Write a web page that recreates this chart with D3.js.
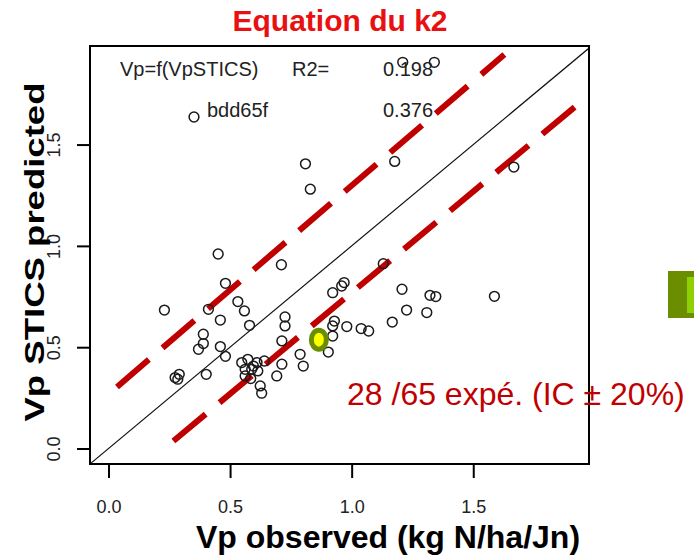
<!DOCTYPE html>
<html><head><meta charset="utf-8">
<script src="https://cdn.jsdelivr.net/npm/d3@7"></script>
<style>body{margin:0;background:#fff}svg{display:block}text{font-family:"Liberation Sans",Arial,sans-serif}</style>
</head><body>
<svg id="c" width="694" height="557"></svg>
<script>
// observed (x) and STICS-predicted (y) values
const obs = [0.810,0.830,1.177,1.667,1.210,1.340,0.451,0.711,1.130,0.481,0.969,0.959,0.922,1.207,1.322,1.346,1.587,
  0.230,0.532,0.559,0.411,0.460,0.580,0.726,0.726,0.929,0.922,0.980,1.039,1.070,1.226,1.309,1.167,
  0.390,0.390,0.370,0.460,0.481,0.713,0.922,0.904,0.788,0.801,0.713,0.548,0.573,0.611,0.641,0.562,0.589,0.614,
  0.562,0.585,0.692,0.402,0.274,0.291,0.285,0.624,0.630,0.596];
const pred = [1.405,1.280,1.417,1.389,1.906,1.906,0.960,0.907,0.912,0.815,0.819,0.802,0.769,0.786,0.756,0.750,0.751,
  0.683,0.725,0.679,0.687,0.634,0.608,0.649,0.605,0.629,0.605,0.602,0.592,0.580,0.683,0.671,0.624,
  0.564,0.518,0.490,0.503,0.455,0.531,0.555,0.476,0.465,0.407,0.416,0.424,0.440,0.424,0.432,0.391,0.391,0.383,
  0.358,0.345,0.358,0.366,0.350,0.366,0.342,0.309,0.273,0.407];
const highlight = [0.865, 0.537];
const upperBand = [[0.035,0.304],[1.628,1.944]];
const lowerBand = [[0.267,0.037],[1.939,1.707]];
const xTicks = [0, 0.5, 1.0, 1.5];
const yTicks = [0, 0.5, 1.0, 1.5];
const xLim = [0, 1.9], yLim = [0, 1.91];

const svg = d3.select("#c");
const pad = l => [l[0]-(l[1]-l[0])*0.04, l[1]+(l[1]-l[0])*0.04];
const x = d3.scaleLinear().domain(pad(xLim)).range([90, 589]);
const y = d3.scaleLinear().domain(pad(yLim)).range([464, 46]);
const fmt = d3.format(".1f");

svg.append("clipPath").attr("id","clip").append("rect").attr("x",90).attr("y",46).attr("width",499).attr("height",418);

// 1:1 line
const dx = x.domain(), dy = y.domain();
svg.append("line").attr("clip-path","url(#clip)")
  .attr("x1", x(dx[0])).attr("y1", y(dx[0])).attr("x2", x(dy[1])).attr("y2", y(dy[1]))
  .attr("stroke","#111").attr("stroke-width",1.2);

// ±20% bands
const line = d3.line().x(d=>x(d[0])).y(d=>y(d[1]));
[upperBand, lowerBand].forEach(b => svg.append("path").attr("d", line(b))
  .attr("fill","none").attr("stroke","#c00000").attr("stroke-width",6).attr("stroke-dasharray","42,18"));

// points
svg.append("g").selectAll("circle").data(obs.map((o,i)=>[o,pred[i]])).join("circle")
  .attr("cx",d=>x(d[0])).attr("cy",d=>y(d[1])).attr("r",4.9)
  .attr("fill","none").attr("stroke","#1a1a1a").attr("stroke-width",1.5);

// highlighted point
svg.append("ellipse").attr("cx",x(highlight[0])).attr("cy",y(highlight[1])).attr("rx",7.5).attr("ry",9.5)
  .attr("fill","#ffff00").attr("stroke","#6b8e00").attr("stroke-width",5);

// box
svg.append("rect").attr("x",90).attr("y",46).attr("width",499).attr("height",418)
  .attr("fill","none").attr("stroke","#000").attr("stroke-width",2);

// axes
const ax = svg.append("g").attr("transform","translate(0,464)")
  .call(d3.axisBottom(x).tickValues(xTicks).tickFormat(fmt).tickSize(14).tickPadding(22));
ax.select(".domain").remove();
ax.selectAll("line").attr("stroke","#000").attr("stroke-width",2);
ax.selectAll("text").attr("font-size",18).attr("fill","#222").attr("font-family","Liberation Sans, Arial, sans-serif");

const ay = svg.append("g").attr("transform","translate(90,0)")
  .call(d3.axisLeft(y).tickValues(yTicks).tickFormat(fmt).tickSize(13));
ay.select(".domain").remove();
ay.selectAll("line").attr("stroke","#000").attr("stroke-width",2);
ay.selectAll("text").attr("x",0).attr("dy",0).attr("text-anchor","middle")
  .attr("transform","translate(-30,0) rotate(-90)")
  .attr("font-size",18).attr("fill","#222").attr("font-family","Liberation Sans, Arial, sans-serif");

// titles
svg.append("text").attr("x",340).attr("y",31).attr("text-anchor","middle")
  .attr("font-size",30).attr("font-weight","bold").attr("fill","#e81010").text("Equation du k2");
svg.append("text").attr("x",388).attr("y",548).attr("text-anchor","middle")
  .attr("font-size",32).attr("font-weight","bold").attr("fill","#000").text("Vp observed (kg N/ha/Jn)");
svg.append("text").attr("transform","translate(44,252) rotate(-90)").attr("text-anchor","middle")
  .attr("font-size",28).attr("font-weight","bold").attr("fill","#000")
  .attr("textLength",339).attr("lengthAdjust","spacingAndGlyphs").text("Vp STICS predicted");

// legend
const lg = svg.append("g").attr("font-size",20).attr("fill","#222");
lg.append("text").attr("x",120).attr("y",76).text("Vp=f(VpSTICS)");
lg.append("text").attr("x",292).attr("y",76).text("R2=");
lg.append("text").attr("x",383).attr("y",76).text("0.198");
lg.append("text").attr("x",207).attr("y",117).text("bdd65f");
lg.append("text").attr("x",383).attr("y",117).text("0.376");
svg.append("circle").attr("cx",194).attr("cy",117).attr("r",4.9).attr("fill","none").attr("stroke","#1a1a1a").attr("stroke-width",1.5);

// annotation
svg.append("text").attr("x",347).attr("y",405).attr("font-size",32).attr("fill","#c00000")
  .text("28 /65 expé. (IC ± 20%)");

// side icon
svg.append("rect").attr("x",668).attr("y",271).attr("width",26).attr("height",47).attr("fill","#6b8e00");
svg.append("rect").attr("x",687).attr("y",277).attr("width",7).attr("height",36).attr("fill","#8fd000");
</script>
</body></html>
